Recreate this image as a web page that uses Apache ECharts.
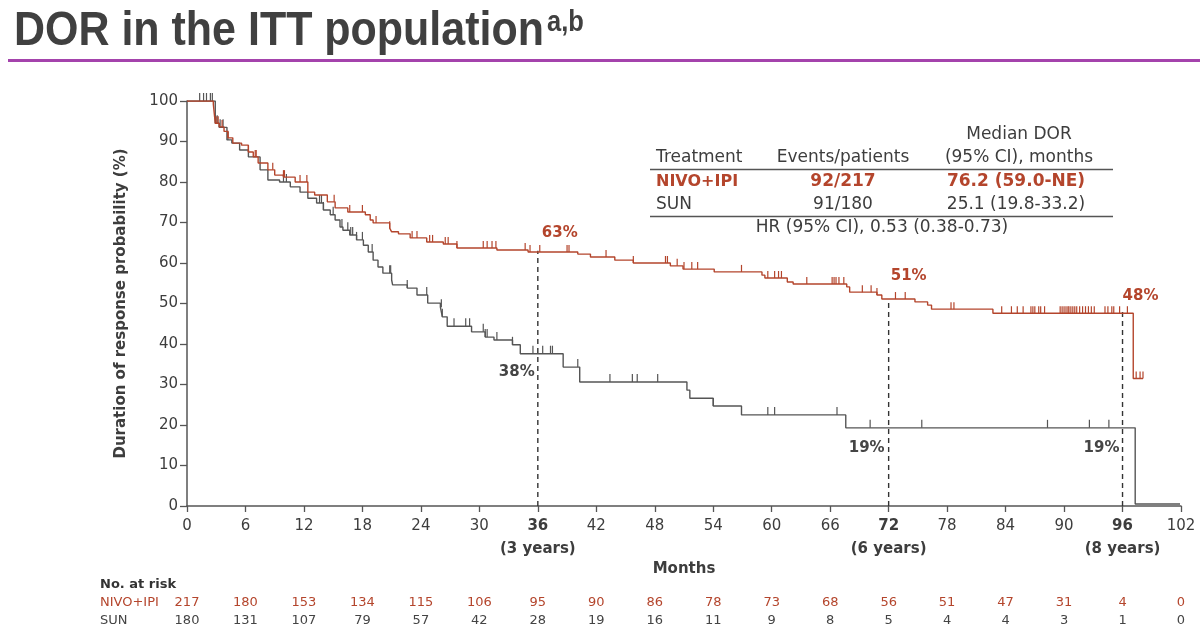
<!DOCTYPE html>
<html><head><meta charset="utf-8">
<script src="https://cdn.jsdelivr.net/npm/echarts@6/dist/echarts.min.js"></script>
<style>html,body{margin:0;padding:0;background:#fff}#c{width:1200px;height:631px}</style>
</head><body><div id="c"></div>
<script>
// Kaplan-Meier steps: [month, DOR probability % after the step]
const nivoSteps = [[0,100],[2.7,99.2],[2.9,94.5],[3.3,93.6],[3.8,92.5],[4.2,90.9],[4.7,89.6],[5.6,89.1],[6.3,87.4],[6.8,86.2],[7.3,84.7],[8.3,83.0],[9.0,81.7],[9.9,81.2],[11.1,80.0],[12.4,77.5],[13.1,76.8],[14.4,75.1],[15.2,73.6],[16.5,72.6],[18.3,71.9],[18.8,70.6],[19.1,69.9],[20.8,68.6],[21.0,67.7],[21.7,67.2],[22.9,66.2],[24.6,65.2],[26.3,64.7],[27.7,63.7],[31.8,63.2],[35.0,62.7],[40.1,62.2],[41.4,61.5],[43.9,60.7],[45.8,60.0],[49.6,59.3],[50.9,58.5],[54.1,57.8],[59.0,57.0],[59.3,56.3],[61.6,55.3],[62.2,54.8],[67.7,54.1],[68.0,52.8],[70.8,52.1],[71.3,51.1],[74.7,50.4],[76.0,49.6],[76.4,48.6],[82.7,47.6],[97.1,31.5],[98.1,31.5]];
const sunSteps = [[0,100],[2.9,94.5],[3.3,93.5],[4.1,90.4],[4.6,89.6],[5.4,87.9],[6.3,86.2],[7.5,83.0],[8.3,80.5],[9.5,80.0],[10.6,78.8],[11.6,77.5],[12.4,76.0],[13.3,74.8],[14.0,73.1],[14.7,71.9],[15.2,70.6],[15.7,68.9],[16.0,68.1],[16.7,66.9],[17.4,65.7],[18.1,64.4],[18.6,62.7],[19.1,60.7],[19.6,59.0],[20.1,57.5],[21.0,55.8],[21.1,54.6],[22.6,53.8],[23.6,52.1],[24.7,50.1],[26.0,49.1],[26.2,46.7],[26.7,44.4],[29.2,43.0],[30.6,41.7],[31.5,41.0],[33.4,39.8],[34.2,37.6],[38.6,34.3],[40.3,30.6],[51.3,28.6],[51.6,26.6],[54.0,24.7],[56.9,22.5],[67.6,19.3],[97.3,0.5],[101.9,0.5]];
// Censoring times (months)
const nivoCensor = [3.0,3.2,3.6,4.2,6.3,7.0,7.1,8.8,9.9,10.0,11.6,12.3,15.1,16.7,18.0,19.4,20.8,23.1,23.6,24.9,25.2,26.5,26.8,27.7,30.4,30.8,31.3,31.7,34.7,35.2,36.2,39.0,39.2,43.0,45.8,49.1,49.3,50.3,51.0,51.8,52.4,56.9,59.6,60.3,60.7,61.0,63.6,66.2,66.4,66.6,66.9,67.4,69.3,70.2,70.8,72.7,73.7,78.4,78.7,83.6,84.6,85.2,85.8,86.6,86.8,87.0,87.4,87.6,88.0,89.6,89.8,90.0,90.2,90.4,90.5,90.7,90.9,91.1,91.3,91.6,91.9,92.2,92.5,92.8,93.1,94.2,94.5,94.9,95.1,95.7,96.5,97.4,97.8,98.1];
const sunCensor = [1.3,1.7,2.0,2.4,2.6,3.1,3.4,3.7,4.2,9.9,10.2,13.6,13.8,14.0,15.0,15.9,16.5,16.8,17.0,17.4,18.0,19.0,20.8,20.9,22.6,24.6,26.1,26.2,27.4,28.6,29.0,30.4,30.6,30.8,31.8,33.4,35.5,36.5,37.3,37.5,40.1,43.4,45.7,46.2,48.3,54.0,59.6,60.3,66.7,70.1,75.4,88.3,92.6,94.6];
// Landmarks
const landmarkMonths = [36, 72, 96];
const landmarkYears = ['3 years', '6 years', '8 years'];
const nivoLandmark = [63, 51, 48];
const sunLandmark = [38, 19, 19];
// Number at risk
const riskMonths = [0,6,12,18,24,30,36,42,48,54,60,66,72,78,84,90,96,102];
const nivoRisk = [217,180,153,134,115,106,95,90,86,78,73,68,56,51,47,31,4,0];
const sunRisk = [180,131,107,79,57,42,28,19,16,11,9,8,5,4,4,3,1,0];
// Summary table
const tableHeader = ['Treatment', 'Events/patients', 'Median DOR', '(95% CI), months'];
const tableNivo = ['NIVO+IPI', '92/217', '76.2 (59.0-NE)'];
const tableSun = ['SUN', '91/180', '25.1 (19.8-33.2)'];
const tableHR = 'HR (95% CI), 0.53 (0.38-0.73)';

const RED = '#b4452c', GREY = '#555555', TXT = '#3d3d3d';
const FF = '"DejaVu Sans", sans-serif';

function survAt(steps, t) {
  let v = steps[0][1];
  for (const [x, y] of steps) { if (x <= t) v = y; else break; }
  return v;
}

const chart = echarts.init(document.getElementById('c'));

const xAxisBase = { type: 'value', min: 0, max: 102, interval: 6, gridIndex: 0 };

const dashSeries = landmarkMonths.map((m, i) => ({
  type: 'line', data: [[m, 0], [m, nivoLandmark[i]]], symbol: 'none', silent: true, z: 1,
  lineStyle: { color: '#333', width: 1.4, type: [5, 4] }
}));

const option = {
  animation: false,
  grid: { left: 187, right: 19, top: 101, bottom: 125, containLabel: false },
  xAxis: [
    Object.assign({}, xAxisBase, {
      position: 'bottom',
      axisLine: { lineStyle: { color: GREY, width: 1.5 } },
      axisTick: { length: 6, lineStyle: { color: GREY, width: 1.3 } },
      splitLine: { show: false },
      axisLabel: {
        margin: 9, color: TXT, fontFamily: FF, fontSize: 15, showMaxLabel: true, showMinLabel: true,
        formatter: v => {
          const i = landmarkMonths.indexOf(v);
          return i >= 0 ? `{b|${v}}\n{b|(${landmarkYears[i]})}` : `{n|${v}}`;
        },
        rich: {
          n: { fontSize: 15, fontFamily: FF, color: TXT, lineHeight: 23 },
          b: { fontSize: 15, fontFamily: FF, color: TXT, fontWeight: 'bold', lineHeight: 23 }
        }
      },
      name: 'Months', nameLocation: 'middle', nameGap: 54,
      nameTextStyle: { fontFamily: FF, fontSize: 15, fontWeight: 'bold', color: TXT }
    }),
    Object.assign({}, xAxisBase, {
      position: 'bottom', offset: 90,
      axisLine: { show: false }, axisTick: { show: false }, splitLine: { show: false },
      axisLabel: { margin: 0, color: RED, fontFamily: FF, fontSize: 13, showMaxLabel: true, showMinLabel: true,
        formatter: v => { const i = riskMonths.indexOf(v); return i >= 0 ? String(nivoRisk[i]) : ''; } }
    }),
    Object.assign({}, xAxisBase, {
      position: 'bottom', offset: 108,
      axisLine: { show: false }, axisTick: { show: false }, splitLine: { show: false },
      axisLabel: { margin: 0, color: '#444', fontFamily: FF, fontSize: 13, showMaxLabel: true, showMinLabel: true,
        formatter: v => { const i = riskMonths.indexOf(v); return i >= 0 ? String(sunRisk[i]) : ''; } }
    })
  ],
  yAxis: {
    type: 'value', min: 0, max: 100, interval: 10,
    axisLine: { show: true, lineStyle: { color: GREY, width: 1.5 } },
    axisTick: { show: true, length: 7, lineStyle: { color: GREY, width: 1.3 } },
    splitLine: { show: false },
    axisLabel: { margin: 9, color: TXT, fontFamily: FF, fontSize: 15 },
    name: 'Duration of response probability (%)', nameLocation: 'middle', nameGap: 58,
    nameTextStyle: { fontFamily: FF, fontSize: 15, fontWeight: 'bold', color: TXT }
  },
  series: [
    ...dashSeries,
    { name: 'SUN', type: 'line', step: 'end', data: sunSteps, symbol: 'none', z: 3,
      lineStyle: { color: GREY, width: 1.4 } },
    { name: 'NIVO+IPI', type: 'line', step: 'end', data: nivoSteps, symbol: 'none', z: 4,
      lineStyle: { color: RED, width: 1.4 } },
    { type: 'scatter', data: sunCensor.map(t => [t, survAt(sunSteps, t)]), symbol: 'rect',
      symbolSize: [1.2, 8], symbolOffset: [0, -4], itemStyle: { color: GREY, opacity: 1 }, silent: true, z: 3 },
    { type: 'scatter', data: nivoCensor.map(t => [t, survAt(nivoSteps, t)]), symbol: 'rect',
      symbolSize: [1.2, 7], symbolOffset: [0, -3.5], itemStyle: { color: RED, opacity: 1 }, silent: true, z: 4 },
    { type: 'scatter', symbolSize: 0, silent: true, z: 5, itemStyle: { opacity: 1 },
      data: landmarkMonths.map((m, i) => ({
        value: [m, nivoLandmark[i]],
        label: { offset: [[22, -18], [20, -23], [18, -15]][i] }
      })),
      label: { show: true, position: 'inside', formatter: p => nivoLandmark[p.dataIndex] + '%',
        color: RED, opacity: 1, fontFamily: FF, fontSize: 15, fontWeight: 'bold' } },
    { type: 'scatter', symbolSize: 0, silent: true, z: 5, itemStyle: { opacity: 1 },
      data: landmarkMonths.map((m, i) => ({
        value: [m, sunLandmark[i]],
        label: { offset: [[-21, 20], [-22, 19], [-21, 19]][i] }
      })),
      label: { show: true, position: 'inside', formatter: p => sunLandmark[p.dataIndex] + '%',
        color: '#454545', opacity: 1, fontFamily: FF, fontSize: 15, fontWeight: 'bold' } }
  ],
  graphic: [
    { type: 'text', x: 14, y: 31, scaleX: 0.877,
      style: { text: 'DOR in the ITT population', font: 'bold 49px "Liberation Sans", Arial, sans-serif',
        fill: '#404040', textVerticalAlign: 'middle' } },
    { type: 'text', x: 547, y: 8, scaleX: 0.877,
      style: { text: 'a,b', font: 'bold 29px "Liberation Sans", Arial, sans-serif',
        fill: '#404040', textVerticalAlign: 'top' } },
    { type: 'rect', shape: { x: 8, y: 59, width: 1192, height: 3 }, style: { fill: '#a443ac' } },
    // summary table
    { type: 'text', style: { text: tableHeader[2], x: 1019, y: 135, textAlign: 'center', textVerticalAlign: 'middle', font: '17px ' + FF, fill: TXT } },
    { type: 'text', style: { text: tableHeader[0], x: 656, y: 158, textAlign: 'left', textVerticalAlign: 'middle', font: '17px ' + FF, fill: TXT } },
    { type: 'text', style: { text: tableHeader[1], x: 843, y: 158, textAlign: 'center', textVerticalAlign: 'middle', font: '17px ' + FF, fill: TXT } },
    { type: 'text', style: { text: tableHeader[3], x: 1019, y: 158, textAlign: 'center', textVerticalAlign: 'middle', font: '17px ' + FF, fill: TXT } },
    { type: 'line', shape: { x1: 650, y1: 169.5, x2: 1113, y2: 169.5 }, style: { stroke: '#555', lineWidth: 1.5 } },
    { type: 'text', style: { text: tableNivo[0], x: 656, y: 182, textAlign: 'left', textVerticalAlign: 'middle', font: 'bold 16px ' + FF, fill: RED } },
    { type: 'text', style: { text: tableNivo[1], x: 843, y: 182, textAlign: 'center', textVerticalAlign: 'middle', font: 'bold 17px ' + FF, fill: RED } },
    { type: 'text', style: { text: tableNivo[2], x: 1016, y: 182, textAlign: 'center', textVerticalAlign: 'middle', font: 'bold 17px ' + FF, fill: RED } },
    { type: 'text', style: { text: tableSun[0], x: 656, y: 205, textAlign: 'left', textVerticalAlign: 'middle', font: '17px ' + FF, fill: TXT } },
    { type: 'text', style: { text: tableSun[1], x: 843, y: 205, textAlign: 'center', textVerticalAlign: 'middle', font: '17px ' + FF, fill: TXT } },
    { type: 'text', style: { text: tableSun[2], x: 1016, y: 205, textAlign: 'center', textVerticalAlign: 'middle', font: '17px ' + FF, fill: TXT } },
    { type: 'line', shape: { x1: 650, y1: 216.5, x2: 1113, y2: 216.5 }, style: { stroke: '#555', lineWidth: 1.5 } },
    { type: 'text', style: { text: tableHR, x: 882, y: 228, textAlign: 'center', textVerticalAlign: 'middle', font: '17px ' + FF, fill: TXT } },
    // number at risk row labels
    { type: 'text', style: { text: 'No. at risk', x: 100, y: 585, textAlign: 'left', textVerticalAlign: 'middle', font: 'bold 13px ' + FF, fill: '#333' } },
    { type: 'text', style: { text: 'NIVO+IPI', x: 100, y: 603, textAlign: 'left', textVerticalAlign: 'middle', font: '13px ' + FF, fill: RED } },
    { type: 'text', style: { text: 'SUN', x: 100, y: 621, textAlign: 'left', textVerticalAlign: 'middle', font: '13px ' + FF, fill: '#444' } }
  ]
};
chart.setOption(option);
</script>
</body></html>
